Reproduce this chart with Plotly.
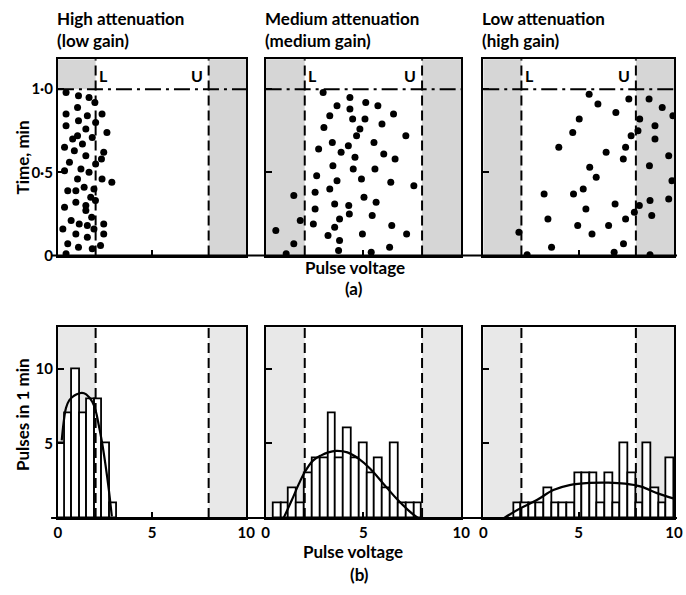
import plotly.graph_objects as go

# ------------------------------------------------------------------ data
LOWER_LEVEL = 2.0      # discriminator lower level "L"
UPPER_LEVEL = 8.0      # discriminator upper level "U"
TIME_LINE = 1.0        # end of the 1-min count
V_MAX = 10.0
T_MAX = 1.18
N_MAX = 12.8
BIN_WIDTH = 0.4

panel_titles = [("High attenuation", "(low gain)"),
                ("Medium attenuation", "(medium gain)"),
                ("Low attenuation", "(high gain)")]

# (a) pulse arrival: voltage vs time
high_volts = [0.43, 1.09, 1.65, 1.96, 1.04, 0.43, 1.56, 2.34, 1.09, 2.0, 0.43, 1.48, 2.6,
              1.04, 0.78, 1.3, 1.82, 0.35, 0.87, 1.48, 2.43, 2.31, 0.61, 2.0, 1.22, 1.65,
              0.35, 2.34, 2.86, 1.04, 0.52, 0.95, 1.39, 1.91, 1.74, 1.99, 0.35, 0.95, 1.48,
              1.48, 1.79, 0.70, 1.13, 1.56, 2.43, 0.26, 0.95, 1.91, 1.56, 2.43, 0.52, 1.09,
              1.82, 2.26, 0.43]
high_times = [0.98, 0.96, 0.95, 0.92, 0.89, 0.85, 0.84, 0.85, 0.81, 0.80, 0.78, 0.76, 0.74,
              0.72, 0.70, 0.67, 0.71, 0.65, 0.63, 0.60, 0.62, 0.58, 0.56, 0.55, 0.52, 0.50,
              0.51, 0.46, 0.44, 0.46, 0.39, 0.39, 0.41, 0.40, 0.35, 0.33, 0.29, 0.32, 0.30,
              0.27, 0.23, 0.21, 0.19, 0.18, 0.19, 0.16, 0.13, 0.16, 0.11, 0.13, 0.07, 0.05,
              0.04, 0.06, 0.01]

med_volts = [2.94, 4.31, 5.12, 3.65, 5.74, 4.31, 3.28, 4.45, 5.08, 6.54, 2.98, 5.95, 4.82,
             4.65, 7.17, 3.41, 4.23, 5.54, 2.71, 3.86, 4.57, 6.04, 6.62, 3.44, 4.48, 5.59,
             2.61, 3.65, 4.90, 6.40, 7.58, 1.44, 2.53, 3.28, 5.03, 5.65, 3.53, 4.25, 2.53,
             4.28, 5.45, 3.78, 1.77, 2.44, 0.52, 3.53, 6.45, 3.19, 4.95, 7.21, 3.78, 1.44,
             3.73, 6.34, 1.05, 5.40]
med_times = [0.98, 0.95, 0.92, 0.90, 0.90, 0.88, 0.84, 0.82, 0.82, 0.85, 0.77, 0.79, 0.76,
             0.72, 0.72, 0.68, 0.66, 0.68, 0.64, 0.62, 0.59, 0.61, 0.58, 0.54, 0.52, 0.52,
             0.48, 0.45, 0.46, 0.44, 0.42, 0.36, 0.38, 0.40, 0.35, 0.32, 0.31, 0.30, 0.28,
             0.25, 0.24, 0.22, 0.21, 0.19, 0.15, 0.17, 0.18, 0.12, 0.13, 0.13, 0.09, 0.07,
             0.03, 0.05, 0.01, 0.02]

low_volts = [5.55, 7.63, 8.69, 6.01, 9.38, 6.95, 9.94, 5.03, 8.20, 9.00, 4.69, 8.11, 7.75,
             9.00, 3.96, 7.46, 6.44, 9.72, 7.34, 8.71, 5.58, 5.92, 9.89, 5.24, 3.19, 4.73,
             8.74, 9.72, 6.91, 8.18, 5.38, 7.92, 8.83, 3.39, 7.46, 4.95, 6.57, 1.87, 5.70,
             3.58, 7.35, 6.86, 2.30, 8.74]
low_times = [0.97, 0.94, 0.94, 0.91, 0.89, 0.86, 0.84, 0.82, 0.82, 0.78, 0.74, 0.75, 0.72,
             0.70, 0.65, 0.65, 0.62, 0.60, 0.58, 0.54, 0.53, 0.47, 0.45, 0.40, 0.37, 0.37,
             0.33, 0.34, 0.31, 0.30, 0.28, 0.26, 0.24, 0.22, 0.22, 0.18, 0.18, 0.14, 0.13,
             0.05, 0.07, 0.02, 0.005, 0.005]

# (b) pulses in 1 min per voltage bin (bin left edges) and fitted curves
high_bin_starts = [0.0, 0.35, 0.75, 1.15, 1.55, 1.95, 2.35, 2.75]
high_counts = [5, 7, 10, 7, 8, 8, 5, 1]
high_curve_v = [0.2, 0.3, 0.43, 0.6, 0.75, 1.0, 1.27, 1.5, 1.82, 2.0, 2.17, 2.35, 2.52, 2.7, 2.86]
high_curve_n = [5.2, 6.4, 7.4, 7.9, 8.1, 8.3, 8.4, 8.3, 7.8, 7.2, 6.2, 5.0, 3.6, 1.9, 0.1]

med_bin_starts = [0.4, 0.8, 1.2, 1.6, 2.0, 2.4, 2.8, 3.2, 3.6, 4.0, 4.4, 4.8, 5.2, 5.6, 6.0,
                  6.4, 6.8, 7.2, 7.6]
med_counts = [1, 1, 2, 1, 3, 4, 4, 7, 4, 6, 4, 5, 3, 4, 2, 5, 1, 1, 1]
med_curve_v = [0.92, 1.34, 1.67, 2.01, 2.42, 2.84, 3.2, 3.6, 4.18, 4.77, 5.35, 6.02, 6.69, 7.36, 7.78]
med_curve_n = [0.0, 1.2, 2.2, 3.1, 3.85, 4.2, 4.4, 4.5, 4.4, 3.96, 3.3, 2.3, 1.3, 0.44, 0.0]

low_bin_starts = [1.6, 2.0, 2.4, 2.8, 3.2, 3.6, 4.0, 4.4, 4.8, 5.2, 5.6, 6.0, 6.4, 6.8, 7.2,
                  7.6, 8.0, 8.4, 8.8, 9.2, 9.6]
low_counts = [1, 1, 1, 1, 2, 1, 1, 1, 3, 3, 3, 1, 3, 1, 5, 3, 1, 5, 2, 1, 4]
low_curve_v = [1.1, 1.96, 2.81, 3.67, 4.52, 5.55, 6.57, 7.43, 8.28, 9.14, 10.0]
low_curve_n = [0.0, 0.66, 1.2, 1.87, 2.2, 2.35, 2.37, 2.3, 2.1, 1.65, 1.3]

time_tick_vals = [0, 0.5, 1.0]
time_tick_text = ["0", "0·5", "1·0"]
count_tick_vals = [5, 10]
volt_tick_vals = [0, 5, 10]

# ------------------------------------------------------------------ layout helpers
W, H = 686, 595
FONT = "Lato"
INK = "black"
STIPPLE_TOP = "rgba(0,0,0,0.16)"
STIPPLE_BOT = "rgba(0,0,0,0.09)"
TITLE_SIZE = 17
TICK_SIZE = 15


def fx(p):
    return p / W


def fy(p):
    return 1 - p / H


col_px = [(55, 247), (266.7, 466), (488.5, 683)]
top_px = (60, 259)
bot_px = (331.7, 525)

fig = go.Figure()

scatter_sets = [(high_volts, high_times), (med_volts, med_times), (low_volts, low_times)]
hist_sets = [(high_bin_starts, high_counts, high_curve_v, high_curve_n),
             (med_bin_starts, med_counts, med_curve_v, med_curve_n),
             (low_bin_starts, low_counts, low_curve_v, low_curve_n)]

layout_axes = {}
shapes = []
annotations = []
bold = dict(family=FONT, color=INK, weight="bold")

for i in range(3):
    # ---------- top row (a)
    k = i + 1
    xa, ya = ("x" if k == 1 else f"x{k}"), ("y" if k == 1 else f"y{k}")
    v, t = scatter_sets[i]
    fig.add_trace(go.Scatter(x=v, y=t, mode="markers", xaxis=xa, yaxis=ya,
                             marker=dict(size=7, color=INK), showlegend=False,
                             cliponaxis=True, hoverinfo="skip"))
    layout_axes["xaxis" if k == 1 else f"xaxis{k}"] = dict(
        domain=[fx(col_px[i][0]), fx(col_px[i][1])], range=[0, V_MAX], anchor=ya,
        showgrid=False, zeroline=False, showline=True, linecolor=INK, linewidth=2,
        mirror=True, ticks="inside", tickvals=[5], ticklen=6, tickwidth=2,
        tickcolor=INK, showticklabels=False)
    layout_axes["yaxis" if k == 1 else f"yaxis{k}"] = dict(
        domain=[fy(top_px[1]), fy(top_px[0])], range=[0, T_MAX], anchor=xa,
        showgrid=False, zeroline=False, showline=True, linecolor=INK, linewidth=2,
        mirror=True, ticks="inside", tickvals=time_tick_vals, ticktext=time_tick_text,
        ticklen=6, tickwidth=2, tickcolor=INK, showticklabels=(i == 0),
        tickfont=dict(size=TICK_SIZE, **bold))

    # shading outside the L..U window
    if i == 0:
        shapes.append(dict(type="rect", xref=xa, yref=ya, x0=0, x1=LOWER_LEVEL,
                           y0=TIME_LINE, y1=T_MAX, fillcolor=STIPPLE_TOP,
                           line=dict(width=0), layer="below"))
    else:
        shapes.append(dict(type="rect", xref=xa, yref=f"{ya} domain", x0=0, x1=LOWER_LEVEL,
                           y0=0, y1=1, fillcolor=STIPPLE_TOP, line=dict(width=0),
                           layer="below"))
    shapes.append(dict(type="rect", xref=xa, yref=f"{ya} domain", x0=UPPER_LEVEL, x1=V_MAX,
                       y0=0, y1=1, fillcolor=STIPPLE_TOP, line=dict(width=0), layer="below"))
    for lvl in (LOWER_LEVEL, UPPER_LEVEL):
        shapes.append(dict(type="line", xref=xa, yref=f"{ya} domain", x0=lvl, x1=lvl,
                           y0=0, y1=1, line=dict(color=INK, width=2, dash="10px,5px"),
                           layer="above"))
    shapes.append(dict(type="line", xref=f"{xa} domain", yref=ya, x0=0, x1=1,
                       y0=TIME_LINE, y1=TIME_LINE,
                       line=dict(color=INK, width=2, dash="16px,5px,3px,5px"), layer="above"))
    annotations.append(dict(xref=xa, yref=ya, x=LOWER_LEVEL + 0.08, y=1.085, text="L",
                            showarrow=False, xanchor="left", yanchor="middle",
                            font=dict(size=16, **bold)))
    annotations.append(dict(xref=xa, yref=ya, x=UPPER_LEVEL - 0.2, y=1.085, text="U",
                            showarrow=False, xanchor="right", yanchor="middle",
                            font=dict(size=16, **bold)))
    # titles
    annotations.append(dict(xref="paper", yref="paper", x=fx(col_px[i][0] - 3), y=fy(19),
                            text=panel_titles[i][0], showarrow=False, xanchor="left",
                            yanchor="middle", font=dict(size=TITLE_SIZE, **bold)))
    annotations.append(dict(xref="paper", yref="paper", x=fx(col_px[i][0] - 3), y=fy(41),
                            text=panel_titles[i][1], showarrow=False, xanchor="left",
                            yanchor="middle", font=dict(size=TITLE_SIZE, **bold)))

    # ---------- bottom row (b)
    k = i + 4
    xa, ya = f"x{k}", f"y{k}"
    starts, counts, cv, cn = hist_sets[i]
    fig.add_trace(go.Bar(x=starts, y=counts, width=BIN_WIDTH, offset=0, xaxis=xa, yaxis=ya,
                         marker=dict(color="white", line=dict(color=INK, width=1.8)),
                         showlegend=False, hoverinfo="skip"))
    fig.add_trace(go.Scatter(x=cv, y=cn, mode="lines", xaxis=xa, yaxis=ya,
                             line=dict(color=INK, width=2.2, shape="spline"),
                             showlegend=False, hoverinfo="skip"))
    layout_axes[f"xaxis{k}"] = dict(
        domain=[fx(col_px[i][0]), fx(col_px[i][1])], range=[0, V_MAX], anchor=ya,
        showgrid=False, zeroline=False, showline=True, linecolor=INK, linewidth=2,
        mirror=True, ticks="inside", tickvals=volt_tick_vals, ticklen=6, tickwidth=2,
        tickcolor=INK, showticklabels=True, tickfont=dict(size=TICK_SIZE, **bold))
    layout_axes[f"yaxis{k}"] = dict(
        domain=[fy(bot_px[1]), fy(bot_px[0])], range=[0, N_MAX], anchor=xa,
        showgrid=False, zeroline=False, showline=True, linecolor=INK, linewidth=2,
        mirror=True, ticks="inside", tickvals=count_tick_vals, ticklen=6, tickwidth=2,
        tickcolor=INK, showticklabels=(i == 0), tickfont=dict(size=TICK_SIZE, **bold))
    for x0, x1 in ((0, LOWER_LEVEL), (UPPER_LEVEL, V_MAX)):
        shapes.append(dict(type="rect", xref=xa, yref=f"{ya} domain", x0=x0, x1=x1,
                           y0=0, y1=1, fillcolor=STIPPLE_BOT, line=dict(width=0),
                           layer="below"))
    for lvl in (LOWER_LEVEL, UPPER_LEVEL):
        shapes.append(dict(type="line", xref=xa, yref=f"{ya} domain", x0=lvl, x1=lvl,
                           y0=0, y1=1, line=dict(color=INK, width=2, dash="10px,5px"),
                           layer="above"))

# continuous base lines under each row
for ya in ("y", "y4"):
    shapes.append(dict(type="line", xref="paper", yref=f"{ya} domain", x0=fx(48), x1=1,
                       y0=0, y1=0, line=dict(color=INK, width=2), layer="above"))

lab = dict(size=TITLE_SIZE, **bold)
annotations += [
    dict(xref="paper", yref="paper", x=fx(19), y=fy(160), text="Time, min", textangle=-90,
         showarrow=False, xanchor="center", yanchor="middle", font=lab),
    dict(xref="paper", yref="paper", x=fx(19), y=fy(420), text="Pulses in 1 min",
         textangle=-90, showarrow=False, xanchor="center", yanchor="middle", font=lab),
    dict(xref="paper", yref="paper", x=fx(358), y=fy(271), text="Pulse voltage",
         showarrow=False, xanchor="center", yanchor="middle", font=lab),
    dict(xref="paper", yref="paper", x=fx(357), y=fy(292), text="(a)",
         showarrow=False, xanchor="center", yanchor="middle", font=lab),
    dict(xref="paper", yref="paper", x=fx(356), y=fy(559), text="Pulse voltage",
         showarrow=False, xanchor="center", yanchor="middle", font=lab),
    dict(xref="paper", yref="paper", x=fx(362), y=fy(582), text="(b)",
         showarrow=False, xanchor="center", yanchor="middle", font=lab),
]

fig.update_layout(
    width=W, height=H, autosize=False,
    margin=dict(l=0, r=0, t=0, b=0, pad=0),
    paper_bgcolor="white", plot_bgcolor="rgba(0,0,0,0)",
    font=dict(family=FONT, size=14, color=INK),
    shapes=shapes, annotations=annotations, bargap=0,
    **layout_axes,
)

fig.write_html("out.html", config={"displayModeBar": False},
               post_script="document.body.style.margin='0';document.body.style.overflow='hidden';")
